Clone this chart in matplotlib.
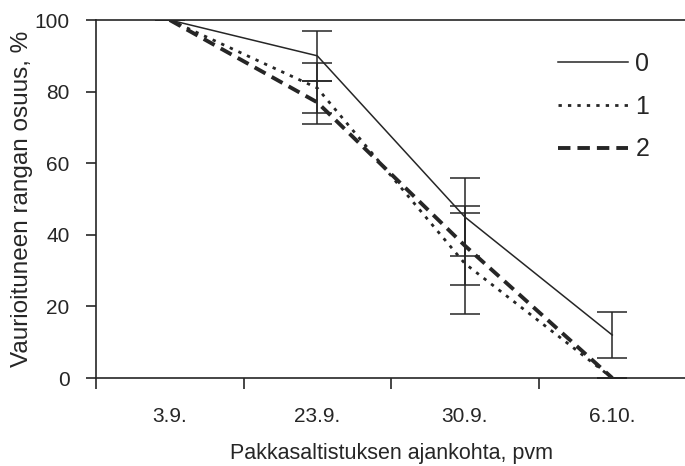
import matplotlib
matplotlib.use("Agg")
import matplotlib.pyplot as plt

plt.rcParams['font.family'] = ['Liberation Sans', 'DejaVu Sans']

categories = ["3.9.", "23.9.", "30.9.", "6.10."]
series_names = ["0", "1", "2"]
s0 = [100, 90, 45, 12]
s1 = [100, 81, 32, 0]
s2 = [100, 77, 37, 0]
e0 = [0, 7, 11, 6.3]
e1 = [0, 7, 14, 0]
e2 = [0, 6, 11, 0]
yticks = [0, 20, 40, 60, 80, 100]

ink = '#262626'
fig = plt.figure(figsize=(6.85, 4.66), dpi=100)
ax = fig.add_axes([96/685, 88/466, 590/685, 358/466])

x = list(range(len(categories)))
ax.errorbar(x, s0, yerr=e0, color=ink, lw=1.1, capsize=11, elinewidth=1.1, capthick=1.1, label=series_names[0])
ax.errorbar(x, s1, yerr=e1, color=ink, lw=2.0, linestyle=(0, (1.2, 2.2)), capsize=11, elinewidth=1.1, capthick=1.1, label=series_names[1])
ax.errorbar(x, s2, yerr=e2, color=ink, lw=2.8, linestyle=(0, (3.2, 1.8)), capsize=11, elinewidth=1.1, capthick=1.1, label=series_names[2])

ax.set_xlim(-0.5, 3.5)
ax.set_ylim(0, 100)
ax.set_yticks(yticks)
ax.set_xticks(x)
ax.set_xticklabels(categories)
ax.set_xticks([-0.5, 0.5, 1.5, 2.5, 3.5], minor=True)
ax.tick_params(axis='x', which='major', length=0, pad=21, labelsize=15, colors=ink)
ax.tick_params(axis='x', which='minor', length=8, width=1.2, direction='out', color=ink)
ax.tick_params(axis='y', length=7, width=1.2, direction='out', labelsize=15, colors=ink, pad=12)

for side in ['left', 'top', 'bottom']:
    ax.spines[side].set_color(ink)
    ax.spines[side].set_linewidth(1.2)
ax.spines['right'].set_visible(False)

ax.set_xlabel("Pakkasaltistuksen ajankohta, pvm", fontsize=15.5, color=ink, labelpad=12)
ax.set_ylabel("Vaurioituneen rangan osuus, %", fontsize=17.5, color=ink, labelpad=1)

handles, labels = ax.get_legend_handles_labels()
handles = [h[0] for h in handles]
leg = ax.legend(handles, labels, loc='upper left', bbox_to_anchor=((558 - 96) / 590, (378 - 52) / 358),
                frameon=False, borderpad=0, borderaxespad=0,
                handlelength=2.8, labelspacing=0.75, fontsize=18, handletextpad=0.3)
for t in leg.get_texts():
    t.set_color(ink)

fig.savefig("out.png", dpi=100)
